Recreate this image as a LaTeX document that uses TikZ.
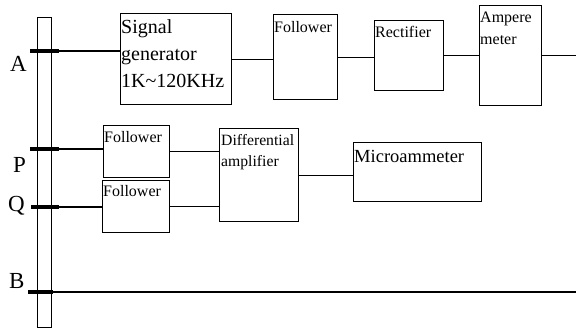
\documentclass[tikz,border=0pt]{standalone}
\usepackage{fontspec}
\setmainfont{Liberation Serif}
\begin{document}
\begin{tikzpicture}[x=1pt,y=-1pt,
  box/.style={draw, line width=1.4pt, inner sep=0pt, anchor=north west},
  wire/.style={line width=1.3pt},
  electrode/.style={line width=4pt},
  txt/.style={anchor=base west, inner sep=0pt, align=left},
  lbl/.style={anchor=base west, inner sep=0pt, font=\fontsize{23}{26}\selectfont}]
\useasboundingbox (0,0) rectangle (576,331);
% rod
\node[box, line width=1.2pt, minimum width=14pt, minimum height=310pt] (rod) at (37,17) {};
% boxes
\node[box, minimum width=111pt, minimum height=91pt] (sg) at (120,13) {};
\node[box, minimum width=64pt, minimum height=85pt] (fol) at (273,14) {};
\node[box, minimum width=69pt, minimum height=70pt] (rect) at (374,20) {};
\node[box, minimum width=62pt, minimum height=100pt] (amp) at (479,5) {};
\node[box, minimum width=66pt, minimum height=52pt] (folP) at (103,125) {};
\node[box, minimum width=67pt, minimum height=52pt] (folQ) at (102,180) {};
\node[box, minimum width=79pt, minimum height=93pt] (diff) at (219,128) {};
\node[box, minimum width=128pt, minimum height=59pt] (micro) at (353,142) {};
% texts (base anchor = baseline of the last line)
\node[txt, font=\fontsize{20}{27}\selectfont] (tsg) at (121,88) {Signal\\generator\\1K\char`\~120KHz};
\node[txt, font=\fontsize{16}{22}\selectfont] (tfol) at (274,33) {Follower};
\node[txt, font=\fontsize{16}{22}\selectfont] (trect) at (375,38) {Rectifier};
\node[txt, font=\fontsize{16}{22}\selectfont] (tamp) at (480,45) {Ampere\\meter};
\node[txt, font=\fontsize{16}{22}\selectfont] (tfolP) at (104,143) {Follower};
\node[txt, font=\fontsize{16}{22}\selectfont] (tfolQ) at (103,197) {Follower};
\node[txt, font=\fontsize{15.7}{21}\selectfont] (tdiff) at (221,167) {Differential\\amplifier};
\node[txt, font=\fontsize{18.5}{22}\selectfont] (tmicro) at (354,163) {Microammeter};
% labels
\node[lbl] (lA) at (10,72) {A};
\node[lbl] (lP) at (13,173) {P};
\node[lbl] (lQ) at (8,212) {Q};
\node[lbl] (lB) at (9,288) {B};
% electrodes
\coordinate (aL) at (30,51); \coordinate (aR) at (59,51);
\coordinate (pL) at (30,149); \coordinate (pR) at (59,149);
\coordinate (qL) at (31,207); \coordinate (qR) at (59,207);
\coordinate (bL) at (28,292); \coordinate (bR) at (53,292);
\coordinate (aOut) at (576,56);
\coordinate (bOut) at (576,292);
\draw[electrode] (aL) -- (aR);
\draw[electrode] (pL) -- (pR);
\draw[electrode] (qL) -- (qR);
\draw[electrode] (bL) -- (bR);
% connectors
\draw[wire] (aR) -- (sg.west |- aR);
\draw[wire] (sg.east) -- (fol.west |- sg.east);
\draw[wire] (fol.east) -- (rect.west |- fol.east);
\draw[wire] (rect.east) -- (amp.west |- rect.east);
\draw[wire] (amp.east) -- (aOut |- amp.east);
\draw[wire] (pR) -- (folP.west |- pR);
\draw[wire] (qR) -- (folQ.west |- qR);
\draw[wire] (folP.east) -- (diff.west |- folP.east);
\draw[wire] (folQ.east) -- (diff.west |- folQ.east);
\draw[wire] (diff.east) -- (micro.west |- diff.east);
\draw[wire] (bR) -- (bOut);
\end{tikzpicture}
\end{document}
